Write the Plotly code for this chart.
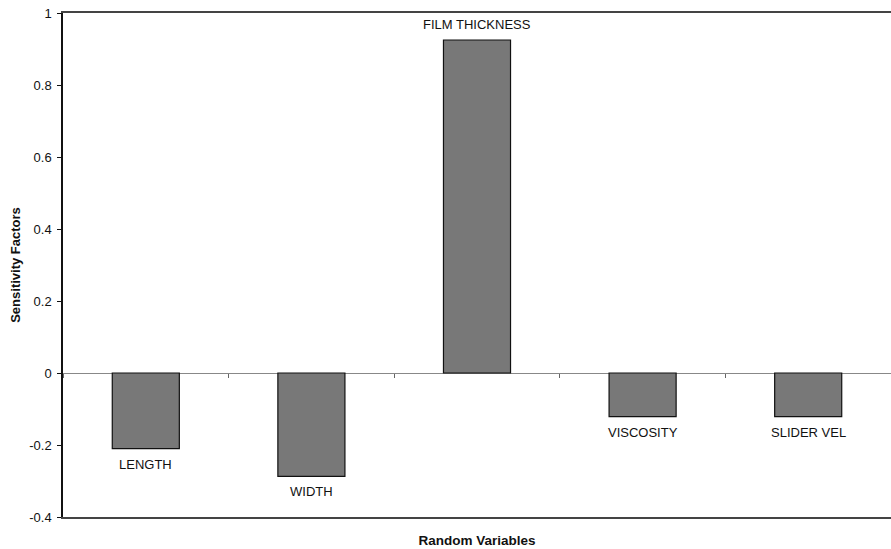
import plotly.graph_objects as go

categories = ["LENGTH", "WIDTH", "FILM THICKNESS", "VISCOSITY", "SLIDER VEL"]
sensitivity = [-0.21, -0.287, 0.925, -0.121, -0.121]
ytick_vals = [-0.4, -0.2, 0, 0.2, 0.4, 0.6, 0.8, 1]
ytick_text = ["-0.4", "-0.2", "0", "0.2", "0.4", "0.6", "0.8", "1"]

FONT = "Arial, Liberation Sans, sans-serif"

fig = go.Figure()
fig.add_trace(go.Bar(
    x=categories, y=sensitivity,
    marker=dict(color="#787878", line=dict(color="#111111", width=1.2)),
    showlegend=False, hoverinfo="x+y",
))
# helper trace for the category axis drawn along the zero line
fig.add_trace(go.Scatter(
    x=categories, y=sensitivity, xaxis="x2", yaxis="y",
    mode="markers", marker=dict(size=1, opacity=0),
    showlegend=False, hoverinfo="skip",
))

for c, v in zip(categories, sensitivity):
    fig.add_annotation(
        x=c, y=v, text=c, showarrow=False,
        yanchor="bottom" if v >= 0 else "top",
        yshift=6 if v >= 0 else -6,
        font=dict(family=FONT, size=13, color="#111111"),
    )

fig.update_layout(
    width=891, height=549,
    margin=dict(l=63, r=0, t=13, b=32),
    paper_bgcolor="white", plot_bgcolor="white",
    bargap=0.595,
    font=dict(family=FONT, size=13, color="#111111"),
    xaxis=dict(
        type="category", range=[-0.5, 4.5],
        showticklabels=False, ticks="",
        showline=True, mirror=True, linecolor="#444444", linewidth=1.5,
        showgrid=False, zeroline=False,
        title=dict(text="<b>Random Variables</b>", standoff=18,
                   font=dict(family=FONT, size=13.5, color="#111111")),
    ),
    xaxis2=dict(
        type="category", range=[-0.5, 4.5], overlaying="x", anchor="free",
        position=(0 - (-0.4)) / 1.4, side="bottom",
        tickson="boundaries", ticks="outside", ticklen=4, tickcolor="#666666",
        showticklabels=False, showline=False, showgrid=False, zeroline=False,
    ),
    yaxis=dict(
        range=[-0.4, 1], tickvals=ytick_vals, ticktext=ytick_text,
        ticks="outside", ticklen=4, tickcolor="#111111",
        ticklabelstandoff=3,
        showline=True, mirror=False, linecolor="#111111", linewidth=1.5,
        showgrid=False, zeroline=True, zerolinecolor="#888888", zerolinewidth=1,
        tickfont=dict(family=FONT, size=13, color="#111111"),
        title=dict(text="<b>Sensitivity Factors</b>", standoff=6,
                   font=dict(family=FONT, size=13, color="#111111")),
    ),
)

fig.write_html("out.html")
